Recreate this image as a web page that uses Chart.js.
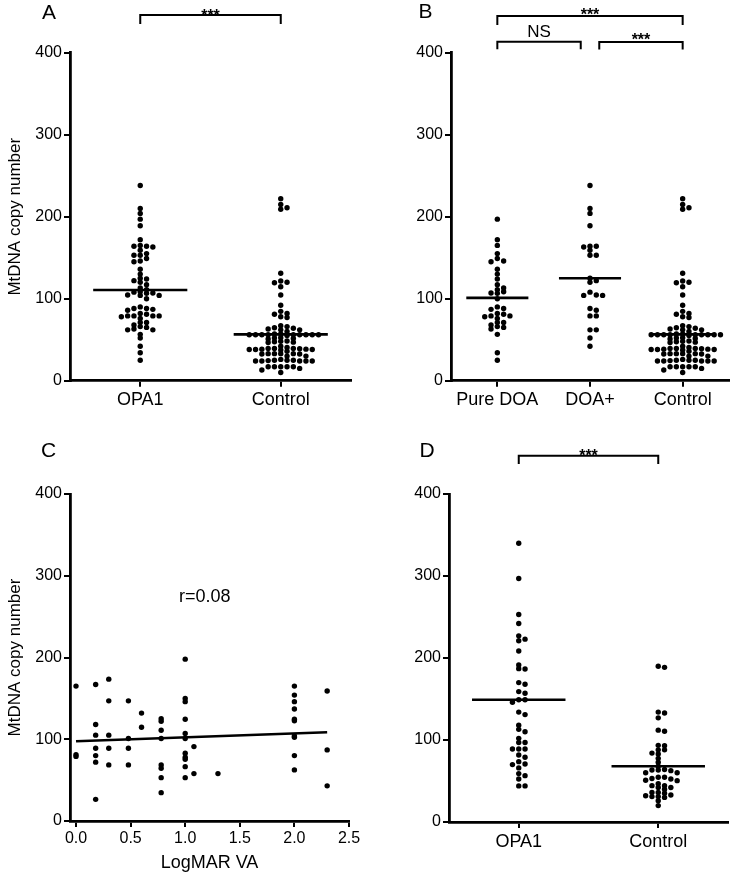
<!DOCTYPE html>
<html><head><meta charset="utf-8">
<script src="https://cdn.jsdelivr.net/npm/chart.js@4"></script>
<style>
html,body{margin:0;padding:0;background:#fff;}
#wrap{position:relative;width:745px;height:880px;overflow:hidden;}
canvas{position:absolute;}
</style></head><body>
<div id="wrap">
<canvas id="cA" width="372" height="430" style="left:0;top:0;width:372px;height:430px"></canvas>
<canvas id="cB" width="373" height="430" style="left:372px;top:0;width:373px;height:430px"></canvas>
<canvas id="cC" width="372" height="450" style="left:0;top:430px;width:372px;height:450px"></canvas>
<canvas id="cD" width="373" height="450" style="left:372px;top:430px;width:373px;height:450px"></canvas>
</div>
<script>
// ---------------- DATA ----------------
const yTicks = [0, 100, 200, 300, 400];
const yTitle = 'MtDNA copy number';

const catsA = ['OPA1', 'Control'];
const catsB = ['Pure DOA', 'DOA+', 'Control'];
const catsD = ['OPA1', 'Control'];

const pureDOA = [197,172,165,155,149,145,146,136,130,124,117,111,113,107,108.5,106.5,100,88,87,90,81,79,76,78,79,82,71,68,65,63,66,71,56.5,34,25];
const doaPlus = [238,210,204,189,164,163,164,153,153,159,125,122,120,108,104,104,104.5,88,86,79,79,62,62,52,42];
const controlAB = [222,215,211,209,131,120,119.5,121.5,114.6,104.5,92,84.6,82,78,77,81,
  66,63,62,60,62,64,64.6,67,56,56,56,56,56,57,56,56,56,56,55,57,
  51.6,52,51,52.5,47.5,48,47,46.5,48.5,
  39.4,38,38.5,36,38,37.5,39,42,40.6,38,38.5,39.4,39.4,
  33,32.5,33,30,33,32.5,30,33,
  25,24,24,24.5,24,26,24,24,25,25,
  17,17,15,17,17,17,13,10];
const opa1A = pureDOA.concat(doaPlus);
const medianA = [110.6, 56.5];
const medianB = [101, 125, 56.5];

const logmarTicks = [0, 0.5, 1, 1.5, 2, 2.5];
const logmarX = [0,0,0,
  0.18,0.18,0.18,0.18,0.18,0.18,0.18,
  0.3,0.3,0.3,0.3,0.3,
  0.48,0.48,0.48,0.48,
  0.6,0.6,
  0.78,0.78,0.78,0.78,0.78,0.78,0.78,0.78,
  1,1,1,1,1,1,1,1,1,1,1,
  1.08,1.08,
  1.3,
  2,2,2,2,2,2,2,2,2,2,
  2.3,2.3,2.3];
const logmarY = [165,81,79,
  167,118,105,89,80,72,26.5,
  173.5,147,105,89,68.6,
  147,101,89,68.6,
  132,114.7,
  125,122,111,101,68.6,64.5,53,34.7,
  198,150,146,124.5,107,101,83,78,75.5,66.5,53,
  91,58,
  58,
  165,154,146,137,124.5,122.5,104,102.5,80,62.5,
  159,87,43];
const fitX = [0, 2.3];
const fitY = [97.5, 108.5];
const corrText = 'r=0.08';
const corrPos = [1.18, 274];

const opaD = [340,297,253,242,227,221,223,208.5,191.5,186.6,187,170,168,157,159,149,146,149,134,131,118,113,110,102,97,97,89,89,89,81.7,79,73.6,70.7,66,70,59,56.5,52.4,44,44];
const controlD = [188.6,190,133,127,134,110.6,112,93.5,93,88,88,84,83,77.6,72.8,68,63.4,62.6,60,60,63.4,64,54.5,53,51,50.4,52.4,54.5,44.3,42,40,42,44.3,46.7,36,35,32,31,30,31,33,36,26,20];
const medianD = [149, 68];

// ---------------- RENDERING ----------------
const FONT = '"Liberation Sans", Arial, Helvetica, sans-serif';
Chart.defaults.font.family = FONT;
Chart.defaults.color = '#000';

const AXIS_W = 2.8;
function gridOpts() { return { drawOnChartArea:false, drawTicks:true, tickLength:6, color:'#000', lineWidth:2 }; }

function swarm(values, center, pyu, pxu) {
  const step = 6.3, minDy = 3.4;
  const placed = [];
  const order = values.map((v,i)=>i).sort((a,b)=>values[b]-values[a]);
  const out = new Array(values.length);
  for (const i of order) {
    const py = values[i]*pyu;
    for (let k=0;k<60;k++) {
      const col = k===0 ? 0 : (k%2 ? (k+1)/2 : -(k/2));
      if (!placed.some(p=>p.col===col && Math.abs(p.py-py)<minDy)) {
        placed.push({col, py});
        out[i] = {x: center + col*step/pxu, y: values[i]};
        break;
      }
    }
  }
  return out;
}

function drawAnnot(chart, spec) {
  const ctx = chart.ctx, xs = chart.scales.x, ys = chart.scales.y, top = chart.chartArea.top;
  ctx.save();
  ctx.fillStyle = '#000'; ctx.strokeStyle = '#000';
  ctx.font = '21px ' + FONT; ctx.textAlign = 'center'; ctx.textBaseline = 'middle';
  ctx.fillText(spec.letter, spec.letterPos[0] - spec.ox, spec.letterPos[1] - spec.oy);
  (spec.brackets || []).forEach(b => {
    const x1 = xs.getPixelForValue(b.from), x2 = xs.getPixelForValue(b.to);
    const y = top - b.dy, yl = y + b.leg;
    ctx.lineWidth = 2; ctx.lineCap = 'butt';
    ctx.beginPath(); ctx.moveTo(x1, yl); ctx.lineTo(x1, y); ctx.lineTo(x2, y); ctx.lineTo(x2, yl); ctx.stroke();
    ctx.textAlign = 'center'; ctx.textBaseline = 'alphabetic';
    if (b.text === '***') {
      ctx.font = 'bold 16px ' + FONT;
      ctx.fillText('***', (x1+x2)/2, y - b.lab + 9);
    } else {
      ctx.font = '17px ' + FONT;
      ctx.fillText(b.text, (x1+x2)/2, y - b.lab + 6.1);
    }
  });
  if (spec.corr) {
    ctx.font = '18px ' + FONT; ctx.textAlign = 'center'; ctx.textBaseline = 'middle';
    ctx.fillText(spec.corr.text, xs.getPixelForValue(spec.corr.pos[0]), ys.getPixelForValue(spec.corr.pos[1]));
  }
  ctx.restore();
}

function pointDs() { return { data: [], pointRadius:2.7, pointBackgroundColor:'#000', pointBorderWidth:0, pointHoverRadius:2.7, showLine:false }; }
function medianDs(i, m) { return { data:[{x:i-0.335,y:m},{x:i+0.335,y:m}], showLine:true, borderColor:'#000', borderWidth:2.6, pointRadius:0, pointHoverRadius:0 }; }

function makeChart(spec) {
  const datasets = [];
  if (spec.groups) {
    spec.groups.forEach(() => datasets.push(pointDs()));
    spec.medians.forEach((m,i) => datasets.push(medianDs(i, m)));
  } else {
    const d = pointDs();
    d.data = logmarX.map((x,i)=>({x, y: logmarY[i]}));
    datasets.push(d);
    datasets.push({ data: fitX.map((x,i)=>({x, y: fitY[i]})), showLine:true, borderColor:'#000', borderWidth:2.6, pointRadius:0, pointHoverRadius:0 });
  }
  const cfg = {
    type: 'scatter',
    data: { datasets },
    options: {
      responsive:false, animation:false, devicePixelRatio:1,
      layout:{ padding: spec.padding },
      plugins:{ legend:{display:false}, tooltip:{enabled:false} },
      events: [],
      scales:{
        x:{ type:'linear', min: spec.xMin, max: spec.xMax,
          afterBuildTicks: s => { s.ticks = spec.xTicks.map(v=>({value:v})); },
          afterFit: s => { s.height = spec.xHeight; },
          ticks:{ callback: spec.xLabel, font:{size: spec.xFont}, color:'#000', padding: spec.xPad, autoSkip:false, maxRotation:0, minRotation:0 },
          grid: gridOpts(),
          border:{ display:true, color:'#000', width:AXIS_W },
          title: spec.xTitle ? { display:true, text: spec.xTitle, font:{size:18}, color:'#000', padding:{top:0, bottom:2} } : { display:false }
        },
        y:{ type:'linear', min:0, max:400,
          afterBuildTicks: s => { s.ticks = yTicks.map(v=>({value:v})); },
          afterFit: s => { s.width = spec.yWidth; },
          ticks:{ font:{size:16}, color:'#000', padding:2 },
          grid: gridOpts(),
          border:{ display:true, color:'#000', width:AXIS_W },
          title: spec.yTitle ? { display:true, text: spec.yTitle, font:{size:17}, color:'#000', padding:{top:5, bottom:0} } : { display:false }
        }
      }
    },
    plugins:[{ id:'annot_'+spec.letter, afterDraw(chart){ drawAnnot(chart, spec); } }]
  };
  const chart = new Chart(document.getElementById(spec.canvas), cfg);
  if (spec.groups) {
    const ys = chart.scales.y, xs = chart.scales.x;
    const pyu = Math.abs(ys.getPixelForValue(100) - ys.getPixelForValue(0)) / 100;
    const pxu = Math.abs(xs.getPixelForValue(1) - xs.getPixelForValue(0));
    spec.groups.forEach((g, gi) => { chart.data.datasets[gi].data = swarm(g, gi, pyu, pxu); });
    chart.update('none');
  }
  return chart;
}

makeChart({ canvas:'cA', letter:'A', letterPos:[49,13], ox:0, oy:0,
  groups:[opa1A, controlAB], medians: medianA,
  xMin:-0.5, xMax:1.5, xTicks:[0,1], xLabel: v => catsA[v], xFont:18, xPad:3, xHeight:40,
  yWidth:70, yTitle: yTitle, padding:{top:52.7, right:21, bottom:9.3, left:0},
  brackets:[{from:0, to:1, dy:37.7, leg:9, lab:3.5, text:'***'}] });

makeChart({ canvas:'cB', letter:'B', letterPos:[425.5,12], ox:372, oy:0,
  groups:[pureDOA, doaPlus, controlAB], medians: medianB,
  xMin:-0.5, xMax:2.5, xTicks:[0,1,2], xLabel: v => catsB[v], xFont:18, xPad:3, xHeight:40,
  yWidth:79, padding:{top:52.7, right:16, bottom:9.3, left:0},
  brackets:[{from:0, to:2, dy:36.7, leg:9, lab:5, text:'***'},
            {from:0, to:0.9, dy:11, leg:7.6, lab:10.7, text:'NS'},
            {from:1.1, to:2, dy:10.7, leg:7.6, lab:6.5, text:'***'}] });

makeChart({ canvas:'cC', letter:'C', letterPos:[48.5,451], ox:0, oy:430,
  xMin:-0.055, xMax:2.5, xTicks: logmarTicks, xLabel: v => Number(v).toFixed(1), xFont:16, xPad:2, xHeight:55,
  xTitle:'LogMAR VA', yWidth:70, yTitle: yTitle, padding:{top:64, right:23, bottom:4, left:0},
  corr:{ text: corrText, pos: corrPos } });

makeChart({ canvas:'cD', letter:'D', letterPos:[427,451], ox:372, oy:430,
  groups:[opaD, controlD], medians: medianD,
  xMin:-0.5, xMax:1.5, xTicks:[0,1], xLabel: v => catsD[v], xFont:18, xPad:3, xHeight:40,
  yWidth:77, padding:{top:64, right:17, bottom:18, left:0},
  brackets:[{from:0, to:1, dy:38.3, leg:8.3, lab:3.7, text:'***'}] });
</script>
</body></html>
